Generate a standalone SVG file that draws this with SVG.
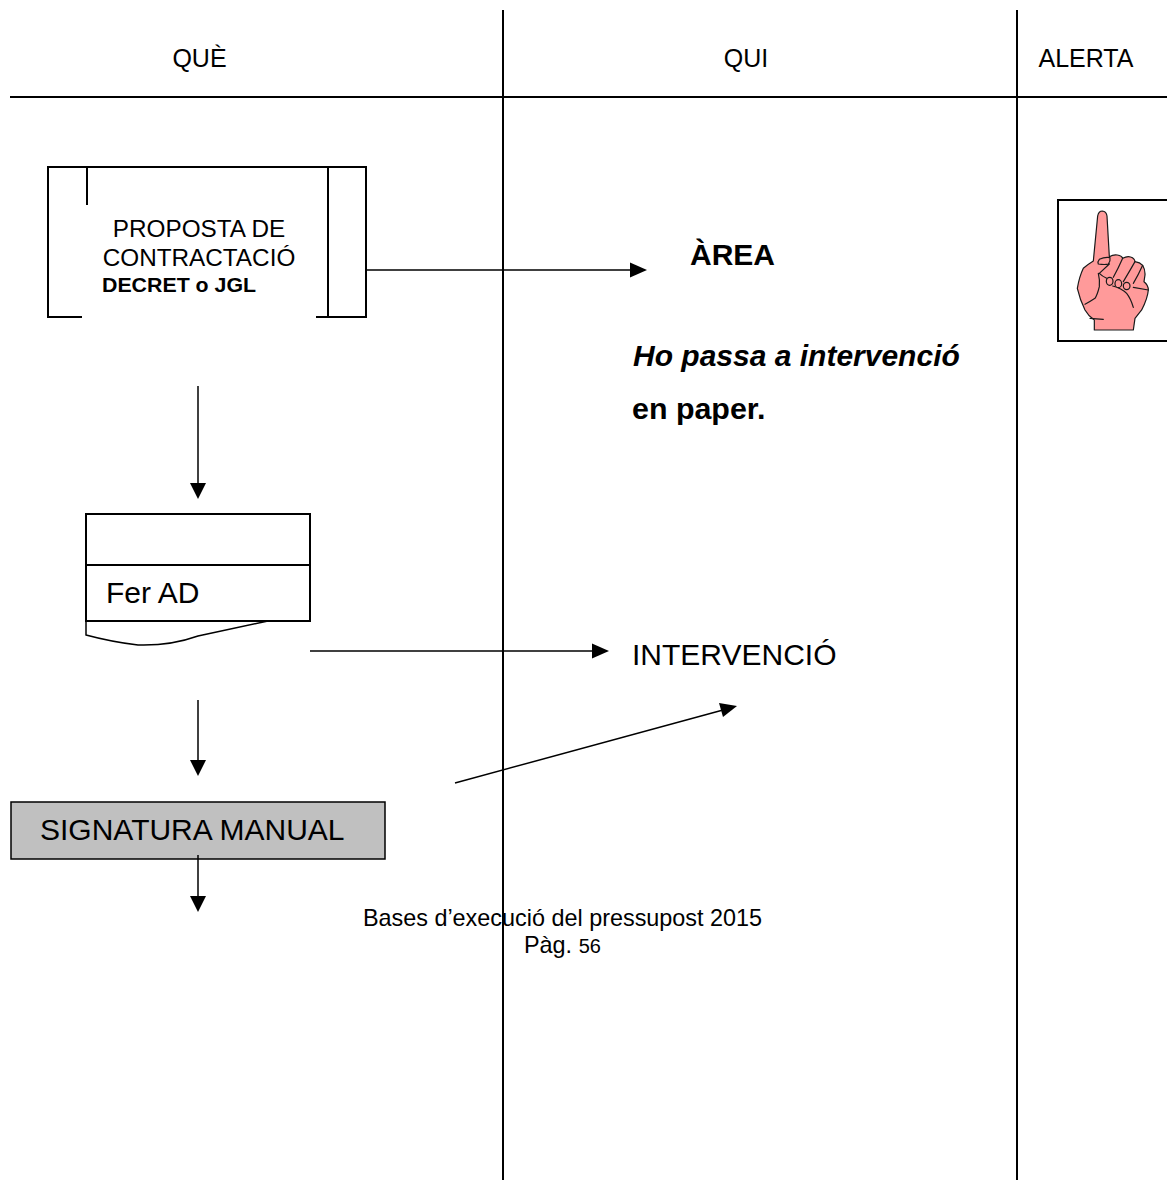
<svg xmlns="http://www.w3.org/2000/svg" width="1167" height="1180" viewBox="0 0 1167 1180">
<style>
text{font-family:"Liberation Sans",Arial,sans-serif;fill:#000}
.l{stroke:#000;stroke-width:2;fill:none}
.c{stroke:#000;stroke-width:1.5;fill:none}
.h{stroke:#1a1a1a;stroke-width:3.6;fill:none;stroke-linejoin:round;stroke-linecap:round}
.hf{fill:#ff9a9a;stroke:#1a1a1a;stroke-width:3.6;stroke-linejoin:round}
.a{fill:#000;stroke:none}
</style>
<rect width="1167" height="1180" fill="#fff"/>
<g id="grid">
<path class="l" d="M503 10V1180M1017 10V1180M10 97H1167"/>
<text x="199.500" y="67" font-size="25" text-anchor="middle">QUÈ</text>
<text x="746" y="67" font-size="25" text-anchor="middle">QUI</text>
<text x="1086" y="67" font-size="25" text-anchor="middle">ALERTA</text>
</g>
<g id="proposta">
<path class="l" d="M82 317H48V167H366V317H316M87 167V205M328 167V317"/>
<text x="199" y="237" font-size="24.300" text-anchor="middle">PROPOSTA DE</text>
<text x="199" y="266" font-size="24.300" text-anchor="middle">CONTRACTACIÓ</text>
<text x="102" y="292" font-size="21" font-weight="bold" textLength="154" lengthAdjust="spacingAndGlyphs">DECRET o JGL</text>
</g>
<g id="area">
<text x="690" y="265" font-size="30" font-weight="bold">ÀREA</text>
<text x="633" y="366" font-size="30" font-weight="bold" font-style="italic">Ho passa a intervenció</text>
<text x="632" y="419" font-size="30.400" font-weight="bold">en paper.</text>
</g>
<g id="alerta">
<rect x="1058" y="200" width="112" height="141" fill="#fff" stroke="#000" stroke-width="2"/>
<g transform="translate(1040 190) scale(.3333)">
<path class="hf" d="M160 213L173 78Q176 63 187 63Q199 64 201 78L208 200Q220 193 232 195Q245 197 248 205Q262 197 272 201Q284 205 285 215Q300 217 308 226Q316 240 315 255L312 275Q325 285 325 300Q323 325 305 360L285 385L280 420H163V390Q145 378 135 360Q120 330 112 295Q118 260 130 235Q145 222 160 213Z"/>
<path class="h" d="M178 250L208 222M178 250Q186 258 200 265M175 222Q195 225 205 222Q212 212 210 203Q195 200 178 208Q172 215 175 222M248 205Q235 235 220 262M285 215Q268 245 250 275M308 226Q295 255 280 280M280 292L325 300M218 288Q245 295 260 310Q272 325 280 352M175 250Q180 270 178 290Q172 315 165 325Q150 335 135 343M150 385L190 388"/>
<ellipse class="hf" cx="209" cy="274" rx="10" ry="12"/>
<ellipse class="hf" cx="235" cy="281" rx="10" ry="12"/>
<ellipse class="hf" cx="260" cy="288" rx="10" ry="11"/>
</g>
</g>
<g id="fer-ad">
<path class="l" d="M86 514H310V621H86Z"/>
<path class="l" d="M86 565H310"/>
<path class="c" d="M86 621V635Q112 642 138 645Q170 646 198 636L268 621"/>
<text x="106" y="603" font-size="30">Fer AD</text>
</g>
<g id="intervencio">
<text x="632" y="665" font-size="30">INTERVENCIÓ</text>
</g>
<g id="signatura">
<rect x="11" y="802" width="374" height="57" fill="#c0c0c0" stroke="#000" stroke-width="1.500"/>
<text x="40" y="840" font-size="30">SIGNATURA MANUAL</text>
</g>
<g id="connectors">
<path class="c" d="M366 270H633"/><path class="a" d="M647 270L630 262.500V277.500Z"/>
<path class="c" d="M198 386V485"/><path class="a" d="M198 499L190 483H206Z"/>
<path class="c" d="M310 651H595"/><path class="a" d="M609 651L592 643.500V658.500Z"/>
<path class="c" d="M198 700V762"/><path class="a" d="M198 776L190 760H206Z"/>
<path class="c" d="M455 783L723 710"/><path class="a" d="M737 706L719 703L723 717Z"/>
<path class="c" d="M198 855V898"/><path class="a" d="M198 912L190 896H206Z"/>
</g>
<g id="footer">
<text x="562.500" y="926" font-size="23.400" text-anchor="middle">Bases d’execució del pressupost 2015</text>
<text x="524" y="953" font-size="23.400">Pàg. <tspan font-size="20">56</tspan></text>
</g>
</svg>
